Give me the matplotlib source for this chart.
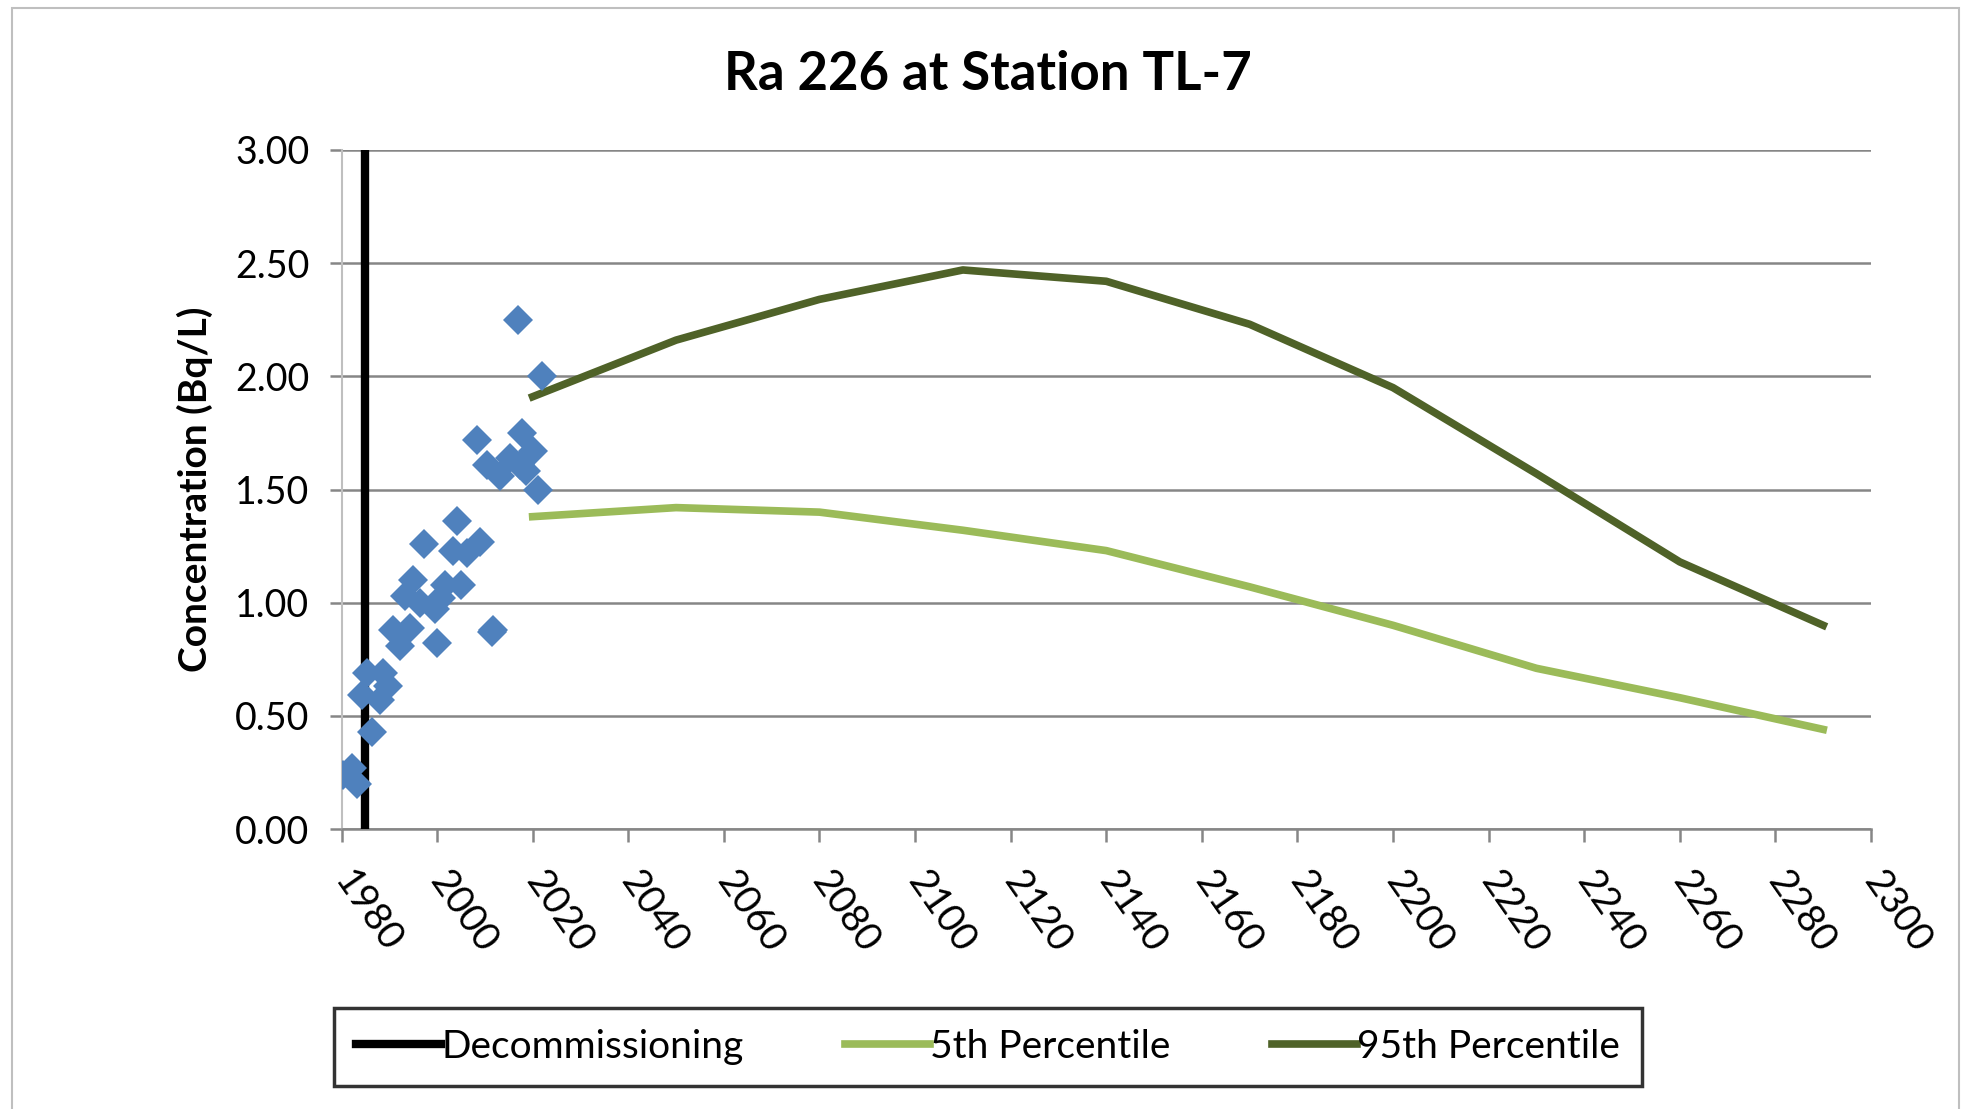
import matplotlib
matplotlib.use("Agg")
import matplotlib.pyplot as plt
from matplotlib.patches import Rectangle
from matplotlib.ticker import FormatStrFormatter

plt.rcParams['font.family'] = ['Lato', 'DejaVu Sans']

# measured Ra 226 at TL-7
obs_year = [1980.4, 1982.1, 1983.2, 1986.3, 1984.2, 1985.3, 1988.7, 1988.0, 1989.8,
            1990.8, 1992.2, 1994.3, 1993.3, 1995.0, 1996.4, 1997.3, 1999.5, 2000.0,
            2000.9, 2001.6, 2003.4, 2004.1, 2005.1, 2006.2, 2009.0, 2011.4, 2011.8,
            2008.3, 2010.4, 2013.2, 2015.3, 2017.3, 2017.7, 2018.7, 2020.1, 2021.2,
            2017.0, 2022.0]
obs_conc = [0.24, 0.27, 0.20, 0.43, 0.59, 0.69, 0.69, 0.57, 0.63,
            0.88, 0.81, 0.89, 1.03, 1.10, 1.00, 1.26, 0.97, 0.82,
            1.02, 1.08, 1.23, 1.36, 1.08, 1.22, 1.27, 0.87, 0.88,
            1.72, 1.61, 1.56, 1.64, 1.61, 1.75, 1.58, 1.67, 1.50,
            2.25, 2.00]

# model predictions
pred_year = [2020, 2050, 2080, 2110, 2140, 2170, 2200, 2230, 2260, 2290]
p5 = [1.38, 1.42, 1.40, 1.32, 1.23, 1.07, 0.90, 0.71, 0.58, 0.44]
p95 = [1.91, 2.16, 2.34, 2.47, 2.42, 2.23, 1.95, 1.57, 1.18, 0.90]

decom_year = 1985

W, H = 1961, 1109
fig = plt.figure(figsize=(W / 100, H / 100), dpi=100)
ax = fig.add_axes([341.5 / W, 1 - 829 / H, (1871 - 341.5) / W, (829 - 150) / H])

ax.plot([decom_year, decom_year], [0, 3], color='black', lw=6, label='Decommissioning', zorder=3)
ax.plot(obs_year, obs_conc, 'D', color='#4F81BD', markersize=15.5, markeredgewidth=0, zorder=4)
ax.plot(pred_year, p5, color='#9BBB59', lw=5.5, label='5th Percentile', zorder=3)
ax.plot(pred_year, p95, color='#4F6228', lw=5.5, label='95th Percentile', zorder=3)

ax.set_xlim(1980, 2300)
ax.set_ylim(0, 3)
ax.set_xticks(range(1980, 2301, 20))
ax.set_yticks([0, 0.5, 1.0, 1.5, 2.0, 2.5, 3.0])
ax.yaxis.set_major_formatter(FormatStrFormatter('%.2f'))
ax.grid(axis='y', color='#868686', lw=1.8, zorder=0)
ax.set_axisbelow(True)

for s in ['top', 'right']:
    ax.spines[s].set_visible(False)
ax.spines['left'].set_color('#BFBFBF')
ax.spines['left'].set_linewidth(1.5)
ax.spines['bottom'].set_color('#868686')
ax.spines['bottom'].set_linewidth(1.8)
ax.tick_params(axis='y', length=9, width=1.8, color='#868686', labelsize=27, pad=14)
ax.tick_params(axis='x', length=9, width=1.8, color='#868686', labelsize=28, pad=24)
for lab in ax.get_xticklabels():
    lab.set_rotation(-55)
    lab.set_ha('left')
    lab.set_va('center')
    lab.set_rotation_mode('anchor')

ax.set_ylabel('Concentration (Bq/L)', fontsize=28, fontweight='bold', labelpad=16)
fig.text(988 / W, 1 - 75 / H, 'Ra 226 at Station TL-7', fontsize=38, fontweight='bold',
         ha='center', va='center')

leg = fig.legend(loc='center', bbox_to_anchor=(988 / W, 1 - 1047 / H), ncol=3,
                 fontsize=28, frameon=True, fancybox=False, handlelength=2.2,
                 handletextpad=0.0, columnspacing=2.6, borderpad=0.55, borderaxespad=0)
leg.get_frame().set_edgecolor('black')
leg.get_frame().set_linewidth(2.5)

fig.add_artist(Rectangle((12 / W, -0.1), (1959 - 12) / W, 1.1 - 8 / H, transform=fig.transFigure,
                         fill=False, edgecolor='#BFBFBF', lw=1.5))

fig.savefig('out.png', dpi=100)
